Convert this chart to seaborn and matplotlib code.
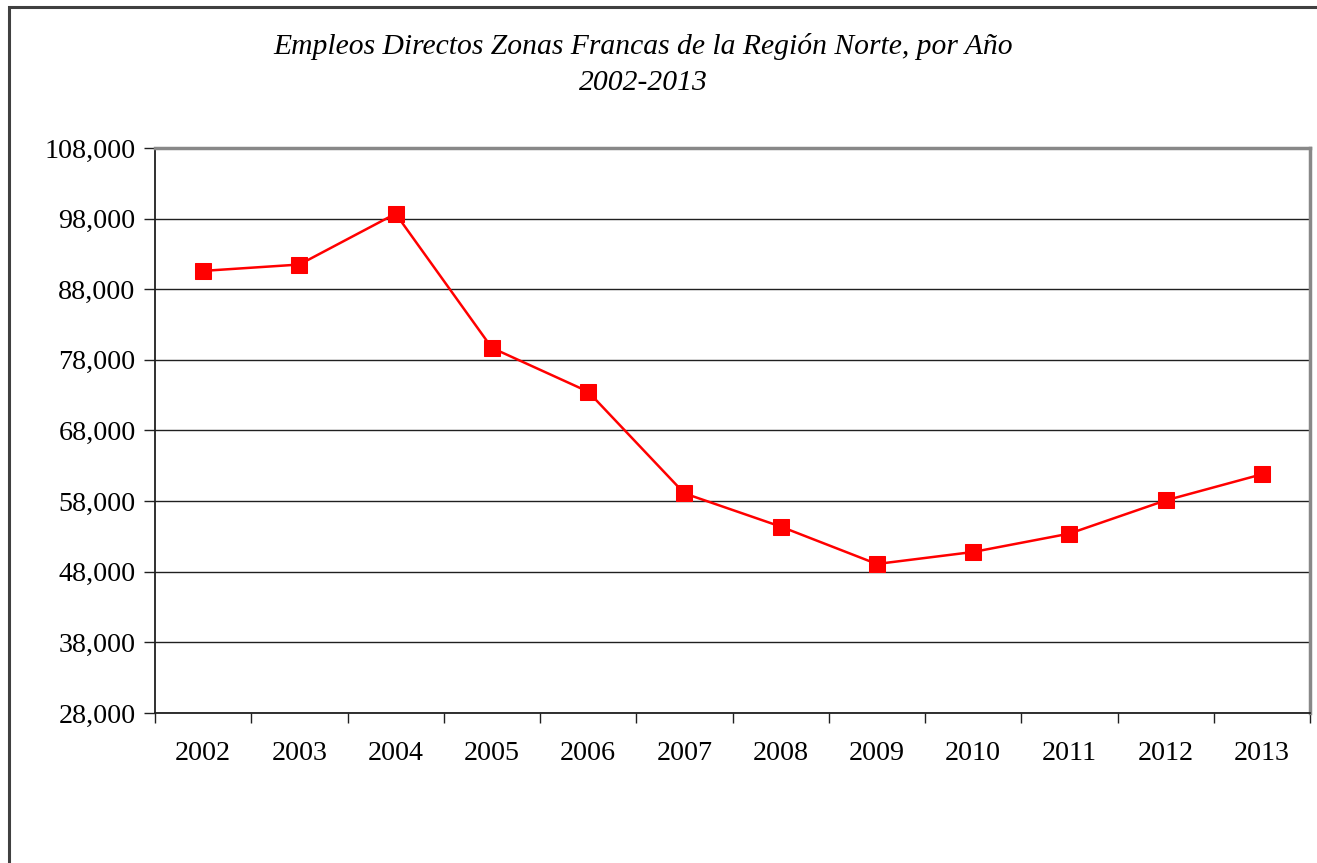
import numpy as np
import pandas as pd
import seaborn as sns
from matplotlib import pyplot as plt
from matplotlib.patches import Rectangle
from matplotlib.ticker import FuncFormatter, FixedLocator

# data
years = ["2002", "2003", "2004", "2005", "2006", "2007",
         "2008", "2009", "2010", "2011", "2012", "2013"]
empleos = [90600, 91500, 98700, 79700, 73500, 59100,
           54400, 49100, 50800, 53400, 58100, 61800]

df = pd.DataFrame({"pos": np.arange(len(years)), "empleos": empleos})

sns.set_style("white")
plt.rcParams["font.family"] = ["Liberation Serif", "DejaVu Serif"]
plt.rcParams["text.color"] = "black"
plt.rcParams["xtick.color"] = "black"
plt.rcParams["ytick.color"] = "black"

fig = plt.figure(figsize=(13.17, 8.63), dpi=100)
ax = fig.add_axes([155 / 1317, 1 - 713 / 863, (1310 - 155) / 1317, (713 - 148) / 863])

# outer frame of the chart (clipped at right/bottom like the original)
fig.patches.append(Rectangle((8.5 / 1317, -0.05), 1.2, 1 - 6.5 / 863 + 0.05,
                             transform=fig.transFigure, fill=False,
                             edgecolor="#404040", linewidth=2.2, zorder=0))

sns.lineplot(data=df, x="pos", y="empleos", ax=ax, color="#ff0000",
             linewidth=1.8, marker="s", markersize=11.5,
             markeredgecolor="#ff0000", markerfacecolor="#ff0000")

ax.set_xlim(-0.5, len(years) - 0.5)
ax.set_ylim(28000, 108000)
ax.set_yticks(np.arange(28000, 108001, 10000))
ax.yaxis.set_major_formatter(FuncFormatter(lambda v, p: f"{int(v):,}"))
ax.yaxis.grid(True, color="#202020", linewidth=1.0)
ax.set_axisbelow(True)

# boundary ticks between categories, labels centered
ax.xaxis.set_major_locator(FixedLocator(np.arange(-0.5, len(years), 1.0)))
ax.xaxis.set_minor_locator(FixedLocator(np.arange(len(years))))
ax.set_xticklabels([])
ax.set_xticklabels(years, minor=True)
ax.tick_params(axis="x", which="major", length=7, width=1, color="#202020",
               direction="out", bottom=True)
ax.tick_params(axis="x", which="minor", length=0, pad=20, labelsize=20.2,
               labelcolor="black")
ax.tick_params(axis="y", length=8, width=1, color="#202020", direction="out",
               left=True, pad=6, labelsize=20.2, labelcolor="black")

ax.set_xlabel("")
ax.set_ylabel("")
for side in ["left", "bottom"]:
    ax.spines[side].set_color("#202020")
    ax.spines[side].set_linewidth(1.3)
for side in ["top", "right"]:
    ax.spines[side].set_visible(True)
    ax.spines[side].set_color("#888888")
    ax.spines[side].set_linewidth(2.5)

fig.text(643 / 1317, 1 - 46 / 863,
         "Empleos Directos Zonas Francas de la Región Norte, por Año",
         ha="center", va="center", fontsize=21.3, style="italic", color="black")
fig.text(643 / 1317, 1 - 83 / 863, "2002-2013",
         ha="center", va="center", fontsize=21.3, style="italic", color="black")

fig.savefig("out.png", dpi=100)
